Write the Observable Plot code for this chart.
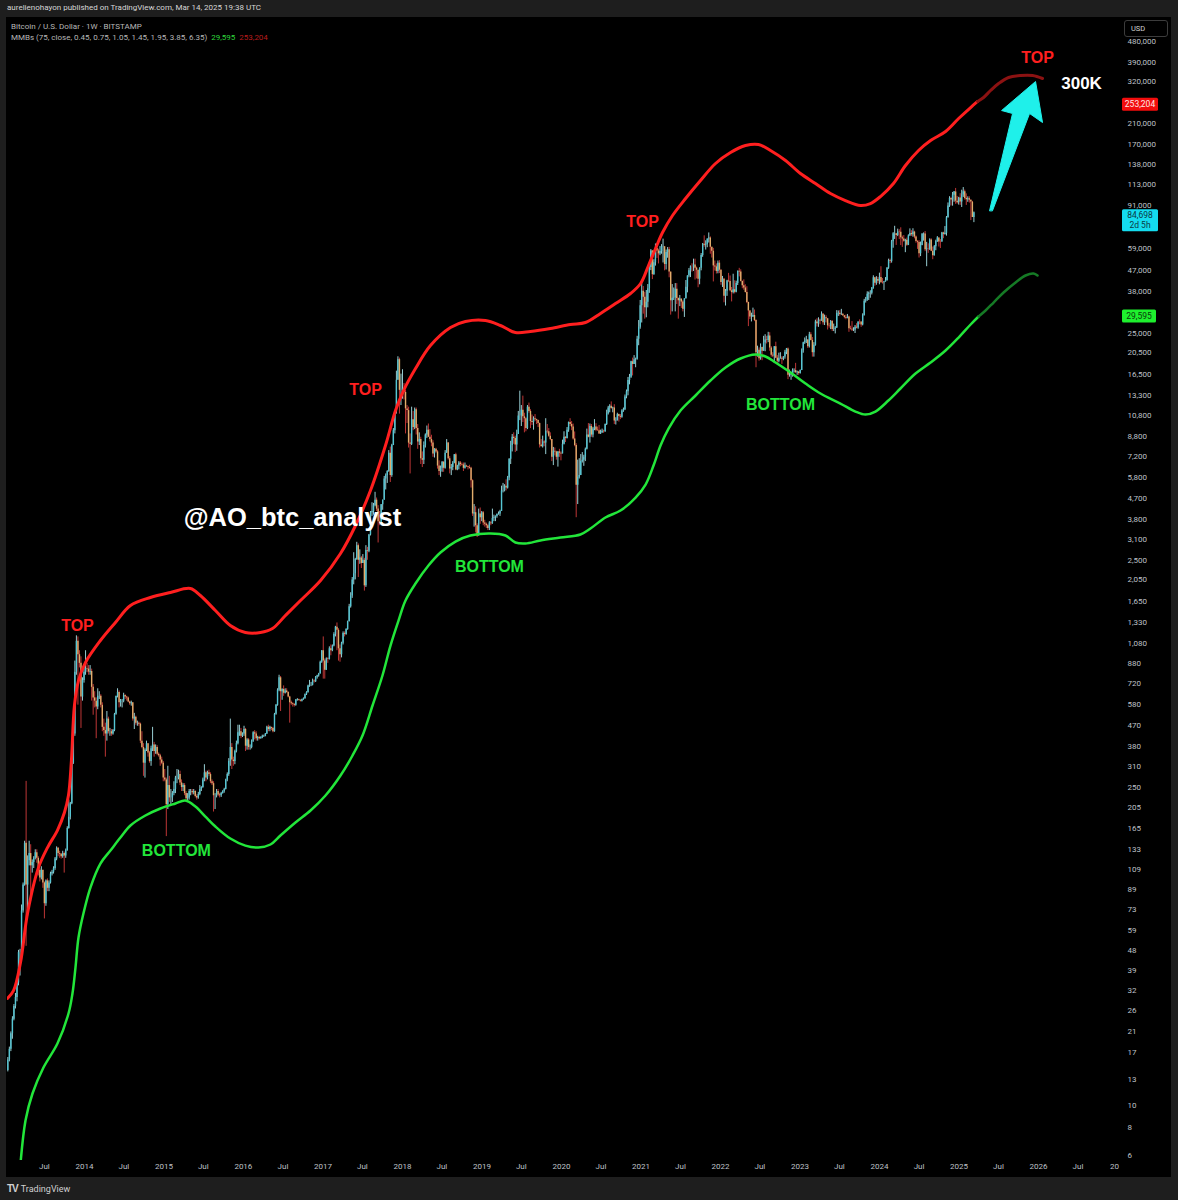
<!DOCTYPE html>
<html><head><meta charset="utf-8">
<script src="https://cdn.jsdelivr.net/npm/d3@7"></script>
<script src="https://cdn.jsdelivr.net/npm/@observablehq/plot@0.6"></script>
<style>
html,body{margin:0;padding:0;background:#1e1e1e;width:1178px;height:1200px;overflow:hidden;font-family:Roboto,"DejaVu Sans",sans-serif;}
#top{position:absolute;left:7px;top:3px;font-size:8px;color:#d6d6d6;white-space:nowrap;}
#panel{position:absolute;left:6px;top:17px;width:1165px;height:1160px;background:#000;overflow:hidden;}
#chart{position:absolute;left:0;top:0;}
#legend{position:absolute;left:5px;top:4px;font-size:8px;color:#b8b8b8;line-height:11px;white-space:nowrap;}
#usd{position:absolute;left:1118px;top:3px;width:44px;height:17px;border:1px solid #3c3c3c;border-radius:3px;background:#000;color:#d0d0d0;font-size:7.5px;line-height:15px;padding-left:6px;box-sizing:border-box;}
#foot{position:absolute;left:7px;top:1183px;font-size:9px;color:#d0d0d0;white-space:nowrap;}
#foot b{font-family:"Liberation Sans",Arial,sans-serif;font-size:10px;letter-spacing:-1px;margin-right:3px;}
</style></head><body>
<div id="top">aurelienohayon published on TradingView.com, Mar 14, 2025 19:38 UTC</div>
<div id="panel">
  <div id="chart"></div>
  <div id="legend">Bitcoin / U.S. Dollar · 1W · BITSTAMP<br>MMBs (75, close, 0.45, 0.75, 1.05, 1.45, 1.95, 3.85, 6.35)&nbsp; <span style="color:#2fd63c">29,595</span>&nbsp; <span style="color:#b81c1c">253,204</span></div>
  <div id="usd">USD</div>
</div>
<div id="foot"><b>TV</b>TradingView</div>
<script>
// ---------- weekly candles [high, low, close], weeks start on first Monday of each year ----------
const firstOpen = 13.5;
const w2013 = [[14.6,13.3,14.2],[16.2,14,15.8],[18,15.5,17.6],[21,17.2,20.6],[24.5,19.5,23.9],[27.7,23.5,27.2],[31,26.5,29.8],[35,28.5,34.5],[48,33.5,46.9],[48.5,37,46.9],[76,45,71.5],[95,70,93],[145,92,142],[266,50,93],[125,68,119],[145,113,128],[140,79,113],[120,105,117],[124,110,122],[133,120,129],[133,116,122],[124,102,108],[110,96,100],[112,98,108],[108,90,95],[96,66,77],[98,75,97],[99,87,90],[97,87,95],[106,94,104],[108,102,106],[112,104,110],[123,108,121],[137,119,135],[136,124,128],[131,122,127],[128,121,124],[131,122,128],[130,105,125],[134,122,132],[168,131,165],[220,164,185],[215,180,212],[330,210,320],[440,316,430],[900,420,805],[1163,780,1100],[1150,576,960],[1000,840,880],[940,455,625],[760,600,740],[860,720,805]];
const w2014 = [[1000,780,835],[880,800,830],[860,780,805],[860,780,810],[830,600,690],[710,520,620],[660,560,600],[620,410,565],[680,550,630],[660,610,630],[640,560,575],[590,440,460],[500,420,445],[480,340,430],[540,400,500],[510,430,440],[455,420,440],[450,420,430],[450,425,445],[530,440,525],[630,520,630],[680,620,655],[665,560,590],[610,565,600],[610,560,600],[650,590,635],[640,610,625],[630,600,620],[625,590,595],[600,575,585],[600,570,590],[590,490,500],[530,450,510],[515,470,480],[490,465,480],[485,465,475],[480,390,400],[440,370,375],[390,280,320],[370,275,365],[400,360,390],[390,340,355],[360,320,325],[380,310,370],[460,360,385],[395,340,360],[385,350,375],[382,345,350],[355,340,345],[350,310,330],[340,315,320],[325,265,275]];
const w2015 = [[300,265,270],[275,152,210],[310,200,255],[280,215,225],[245,210,225],[240,215,235],[265,230,245],[280,235,275],[300,260,275],[298,270,285],[295,255,262],[270,240,250],[260,240,255],[260,230,235],[240,215,223],[235,218,225],[245,220,240],[245,230,240],[245,232,237],[245,232,240],[242,225,228],[232,220,225],[238,222,233],[255,230,245],[252,240,250],[275,248,270],[315,265,290],[295,265,275],[295,270,290],[298,280,285],[290,260,265],[270,255,260],[265,195,230],[235,200,230],[245,225,240],[245,228,232],[236,225,230],[238,226,235],[242,234,240],[248,236,245],[272,244,270],[290,265,285],[335,280,325],[500,310,375],[390,300,330],[340,310,325],[365,315,360],[400,355,390],[470,385,435],[470,420,440],[455,410,420],[435,415,430]];
const w2016 = [[465,420,450],[455,360,380],[410,365,405],[410,365,375],[385,365,375],[405,370,400],[440,395,435],[445,405,430],[440,400,410],[420,400,415],[420,405,410],[418,408,415],[425,410,420],[425,415,420],[432,418,430],[465,428,460],[470,440,450],[465,440,460],[460,445,455],[460,435,440],[530,438,525],[580,520,575],[680,570,670],[780,660,760],[770,540,660],[680,605,675],[700,630,650],[680,645,665],[680,650,655],[660,620,625],[630,480,590],[600,575,585],[590,565,580],[585,565,575],[610,570,605],[615,600,610],[612,600,605],[608,595,600],[612,595,610],[620,605,615],[645,612,640],[660,635,655],[705,650,700],[740,690,705],[725,695,705],[750,700,735],[745,720,730],[770,725,765],[780,750,775],[795,765,790],[900,790,890],[1000,880,1000]];
const w2017 = [[1150,750,900],[920,750,820],[930,820,920],[930,880,915],[1040,910,1020],[1060,950,1000],[1060,990,1050],[1200,1040,1180],[1280,1150,1270],[1325,1000,1230],[1250,900,1020],[1060,890,960],[1090,930,1080],[1210,1060,1190],[1210,1150,1180],[1250,1170,1240],[1350,1230,1340],[1600,1340,1560],[1800,1540,1740],[2100,1700,2050],[2700,1950,2180],[2550,2050,2520],[3000,2500,2900],[2950,2100,2500],[2780,2400,2560],[2600,2300,2420],[2650,2450,2500],[2550,1830,1930],[2900,1900,2760],[2850,2500,2740],[3250,2700,3230],[4100,3200,4050],[4480,3900,4100],[4450,3950,4350],[4980,4300,4600],[4700,4100,4200],[4350,2980,3700],[4100,3550,3620],[4400,3550,4390],[4600,4150,4600],[5850,4600,5700],[6000,5100,5900],[6200,5450,6150],[7600,6100,7400],[7880,5500,5900],[8100,5800,8000],[9500,8000,9300],[11400,9000,11300],[17000,11000,15500],[19666,15500,19100],[19400,11000,14000],[16500,12000,14000]];
const w2018 = [[17250,12800,14200],[15000,12700,13700],[14000,9000,11600],[12000,10000,11400],[11800,7800,8200],[9000,6000,8100],[11800,8000,10400],[11300,9300,9600],[11700,9400,11500],[11700,8900,9500],[9900,7700,8300],[9100,8000,8500],[8700,6600,7000],[7500,6400,6900],[8300,6600,8000],[9000,7800,8900],[9750,8600,9350],[9950,8700,8700],[9400,8300,8500],[8880,7900,8200],[8400,7100,7350],[7750,7050,7700],[7780,7400,7500],[7600,6300,6500],[6850,5900,6150],[6500,5800,6350],[6800,6100,6750],[6800,6100,6350],[7600,6300,7400],[8500,7400,8200],[8250,6900,7000],[7150,6000,6300],[6600,5900,6400],[6800,6200,6700],[7300,6650,7280],[7400,6200,6250],[6550,6200,6500],[6800,6250,6700],[6800,6450,6600],[6700,6500,6570],[6700,6150,6350],[6700,6300,6500],[6550,6400,6450],[6480,6250,6400],[6550,6300,6350],[6420,5200,5600],[5650,3900,4000],[4400,3500,4050],[4300,3300,3550],[3620,3150,3200],[4200,3200,4000],[4250,3600,3850],[4100,3700,4050]];
const w2019 = [[4100,3550,3650],[3750,3500,3600],[3650,3450,3550],[3600,3380,3450],[3700,3380,3650],[3700,3550,3620],[4200,3600,3820],[3950,3700,3850],[3920,3700,3900],[4000,3830,3980],[4080,3950,4000],[4150,3900,4100],[5300,4100,5050],[5450,4950,5060],[5380,5000,5300],[5650,5050,5200],[5850,5150,5760],[7000,5600,6960],[8350,6600,8000],[8950,7500,8700],[9100,8100,8600],[8800,7450,8050],[9350,7550,8950],[11300,8950,10800],[13880,10300,10800],[12000,9700,11450],[13200,10100,10700],[11100,9100,10500],[10600,9200,9500],[12000,9400,11800],[12300,11100,11300],[11500,9500,10200],[10900,9800,10100],[10700,9350,10500],[10950,10200,10400],[10450,9900,10300],[10350,9600,10000],[10050,7800,8050],[8500,7900,7900],[8800,7800,8300],[8400,7900,8200],[10500,7300,9250],[9900,9000,9200],[9500,8700,8800],[9100,8400,8500],[8500,6800,7100],[7850,6530,7550],[7800,7200,7500],[7550,6900,7100],[7520,6430,7500],[7700,7100,7400],[7500,6850,7350]];
const w2020 = [[8450,7350,8100],[9200,8050,8700],[8750,8250,8600],[9600,8550,9350],[10150,9150,10100],[10500,9700,9900],[10200,9300,9650],[9950,8450,8550],[9180,7900,8000],[8150,3850,5350],[6900,4400,5800],[7000,5700,5900],[7300,5900,6800],[7450,6700,6900],[7250,6480,7100],[7800,6800,7700],[9450,7650,8900],[10000,8650,8700],[9950,8200,9700],[9900,8700,8900],[9600,8650,9450],[10400,9300,9650],[9980,9200,9350],[9650,9250,9300],[9800,8950,9000],[9350,8950,9100],[9450,9050,9250],[9350,9050,9200],[9950,9150,9900],[11450,9800,11050],[11900,10900,11700],[12100,11150,11900],[12450,11550,11650],[11800,11150,11700],[12100,9900,10250],[10600,9850,10300],[11100,10250,10950],[11000,10150,10750],[10950,10400,10650],[11500,10550,11350],[11700,11200,11500],[13350,11400,13100],[14050,12850,13800],[15950,13250,15450],[16450,14800,16000],[18800,15800,18700],[19400,16200,18200],[19900,18200,19100],[19400,17600,19200],[24200,19000,23500],[28400,22000,26500],[34800,26000,33000]];
const w2021 = [[42000,27700,38200],[40100,30300,36000],[37800,28800,32300],[38500,29200,34200],[40900,32300,39200],[49700,37400,48600],[58300,47100,57500],[57500,43000,45200],[52600,44950,51000],[61700,49300,59000],[61200,53300,57500],[58500,50400,55800],[60100,54800,57100],[61300,55600,59800],[64800,50900,60000],[57600,47000,50100],[58000,47400,56600],[59500,53400,58200],[59600,43800,46400],[46000,30000,34700],[40900,31000,35600],[39500,34800,35800],[41300,31000,39000],[41300,33400,35500],[35700,28800,34700],[36600,32700,35300],[35100,32100,34250],[34700,31000,31800],[35400,29300,35400],[42600,35300,39800],[44700,37600,44600],[48100,43800,47000],[49400,43900,48900],[50500,46400,48800],[52900,46700,49900],[52900,42800,48300],[48800,43300,47300],[47300,39600,43200],[48500,40800,48200],[56000,47000,54900],[62000,53900,61500],[67000,59700,60900],[63700,58000,61300],[64300,59400,64900],[69000,62300,65500],[66300,55600,59700],[59300,53500,57300],[59000,42000,49400],[51900,46900,48900],[50400,45500,46700],[51900,45600,50800],[52100,45700,47300]];
const w2022 = [[47500,40600,41800],[44400,39700,43100],[43500,34000,36300],[38900,32900,38200],[42700,36300,42400],[45800,41700,42200],[44600,38000,38400],[39700,34300,37700],[45400,37200,38800],[42500,37200,37800],[42300,37600,41300],[46900,40500,46800],[48200,44200,46400],[47500,42000,42200],[42400,39200,40400],[42900,38600,39500],[40800,37600,37700],[40000,33700,34100],[34200,26700,31300],[31400,28700,29400],[30600,28000,29400],[32200,29300,29900],[31600,28100,28400],[28600,17600,20500],[21900,19600,21000],[21500,18800,19300],[22400,19000,21600],[21700,18900,20800],[24200,20800,22600],[24600,20700,23300],[24200,22400,23200],[25200,22700,24300],[25100,20800,21500],[21800,19600,20000],[20500,19500,19800],[21800,18500,21800],[22800,19300,19400],[19900,18200,18800],[20400,18500,19300],[20500,19200,19400],[19700,18200,19200],[19700,18900,19600],[21000,19200,20600],[21400,20100,21300],[21500,15600,16300],[17200,16000,16300],[16800,15500,16450],[17400,16000,17100],[17400,16700,17100],[18400,16600,16750],[17000,16300,16850],[16950,16300,16600]];
const w2023 = [[17200,16500,17100],[21300,17100,20900],[22800,20400,22700],[23800,22300,23100],[24200,22500,23300],[23400,21400,21800],[25200,21500,24600],[25100,23100,23200],[23900,19600,20500],[22700,19600,22100],[28500,21900,28000],[28900,26600,27500],[29200,26500,28500],[28800,27200,28300],[31000,28200,30300],[30500,27100,27800],[30000,27000,29200],[29800,27700,28900],[29000,25800,26900],[27600,26300,26800],[28400,25900,28100],[28400,25400,25900],[27400,25400,25900],[26700,24800,26300],[31400,26200,30500],[31300,29600,30600],[31400,29700,30200],[31800,29900,30300],[30400,29600,29800],[29800,28900,29300],[30000,28600,29050],[30200,28900,29400],[29700,25200,26100],[26800,25800,26000],[28100,25400,25800],[26400,25400,25800],[27000,24900,26550],[27500,26100,26300],[28000,26000,27990],[28600,27200,27950],[28000,26500,27150],[30400,26900,29900],[35200,29700,34500],[35900,33900,35000],[38000,34500,37100],[37900,34800,37400],[38400,35600,37450],[39700,36800,39450],[44700,39000,43800],[44000,40200,41400],[44300,40600,43000],[44000,41300,42300]];
const w2024 = [[45900,40800,43900],[49000,41500,41700],[43500,41100,41600],[42200,38500,42000],[43900,41900,42600],[48600,42300,48300],[52900,47700,52100],[52900,50500,51700],[64000,50800,63100],[69200,59100,68400],[73800,64600,68400],[68700,60800,67200],[71700,66500,69600],[71300,64500,69400],[72700,60700,65700],[66800,59600,64900],[67200,62800,63400],[64700,56500,64000],[65500,60200,60900],[67700,60700,67000],[71900,66500,68600],[70600,66600,67800],[72000,66100,69600],[70200,65000,66200],[66900,62200,63200],[63800,58400,62700],[63800,53500,55900],[62900,54300,60800],[68400,60600,68200],[69000,63500,68300],[70000,57100,58200],[62700,49000,58700],[61800,56100,58500],[65000,57800,64200],[65000,57100,57300],[59800,52600,54800],[60700,54600,60000],[64100,57600,63200],[66500,62700,65600],[65600,59800,63000],[64500,58900,62900],[69400,62800,69000],[69500,65100,68000],[73600,67500,68700],[81500,66800,80400],[93500,80200,90600],[99600,89400,97900],[98900,90700,96400],[104000,90500,101200],[105000,94200,104500],[108300,92200,95200],[99900,92500,93700],[99000,91500,98300]];
const w2025 = [[102700,91200,94500],[106400,89300,101300],[109300,98900,104700],[106500,96200,97700],[102500,91200,96500],[99500,94100,97600],[99500,93400,96200],[96500,78200,94300],[95000,81500,80700],[85300,76600,84698]];
const candleYears = [2013,2014,2015,2016,2017,2018,2019,2020,2021,2022,2023,2024,2025];
const candleBlocks = [w2013,w2014,w2015,w2016,w2017,w2018,w2019,w2020,w2021,w2022,w2023,w2024,w2025];

// ---------- bands (decimal year, price) ----------
const upperYear = [2013.031,2013.107,2013.195,2013.283,2013.421,2013.535,2013.660,2013.748,2013.799,2013.836,2013.874,2013.925,2014.013,2014.201,2014.390,2014.579,2014.830,2015.082,2015.333,2015.459,2015.648,2015.836,2016.025,2016.214,2016.365,2016.528,2016.717,2016.969,2017.220,2017.409,2017.597,2017.786,2017.912,2018.013,2018.164,2018.352,2018.604,2018.792,2019.044,2019.233,2019.421,2019.610,2019.862,2020.113,2020.302,2020.491,2020.679,2020.868,2020.994,2021.094,2021.182,2021.270,2021.396,2021.560,2021.748,2021.937,2022.126,2022.314,2022.478,2022.629,2022.818,2023.006,2023.195,2023.384,2023.572,2023.761,2023.887,2024.013,2024.176,2024.327,2024.491,2024.642,2024.830,2024.994,2025.145,2025.233];
const upperValue = [29.5,31.9,42.4,69.7,111,136,162,194,231,329,574,739,888,1109,1331,1581,1715,1804,1879,1750,1503,1291,1203,1203,1252,1429,1663,2037,2678,3557,5072,8005,11405,13973,17467,22047,26463,28120,28406,27003,25152,25410,26193,27280,27837,30500,33750,37350,41330,49610,58920,69290,82320,97790,117400,139450,155900,167300,169100,159100,143750,126000,113900,102900,95830,91090,92950,99800,113900,136650,159100,176000,192900,220000,246000,261500];
const upperProjYear = [2025.233,2025.308,2025.396,2025.497,2025.623,2025.774,2025.925,2026.050];
const upperProjValue = [261500,272200,292200,313700,333400,340200,340200,330000];
const lowerYear = [2013.182,2013.258,2013.346,2013.484,2013.660,2013.799,2013.849,2013.887,2013.925,2013.987,2014.075,2014.201,2014.327,2014.453,2014.579,2014.767,2014.956,2015.145,2015.270,2015.396,2015.522,2015.648,2015.836,2016.025,2016.189,2016.340,2016.465,2016.654,2016.843,2017.031,2017.220,2017.371,2017.497,2017.623,2017.748,2017.849,2017.950,2018.038,2018.164,2018.327,2018.478,2018.667,2018.855,2019.107,2019.296,2019.421,2019.547,2019.736,2019.987,2020.239,2020.365,2020.553,2020.742,2020.931,2021.057,2021.157,2021.245,2021.346,2021.497,2021.686,2021.874,2022.063,2022.252,2022.440,2022.566,2022.692,2022.881,2023.069,2023.258,2023.509,2023.698,2023.824,2023.950,2024.113,2024.264,2024.453,2024.642,2024.830,2024.994,2025.145,2025.245];
const lowerValue = [4.9,8.55,11.25,14.64,18.67,25.3,31.0,40.3,54.7,69.7,90.7,115.7,132,150.6,170.1,188.2,202.1,212.6,219.1,206.2,186.3,168.4,149.1,138.8,136.1,140.3,153.7,175.4,198.1,230.5,282.3,345.8,423.4,574,778,1054,1358,1663,1976,2371,2705,3024,3215,3281,3215,2994,2964,3055,3149,3248,3451,3857,4141,4724,5389,6535,8005,9506,11405,13285,15462,17640,19326,20126,19722,18556,16768,15000,13556,12246,11290,10952,11290,12624,14260,16600,18556,20960,23910,27280,29580];
const lowerProjYear = [2025.245,2025.333,2025.434,2025.560,2025.711,2025.836,2025.937,2025.987];
const lowerProjValue = [29580,31440,34090,37730,41760,44820,45740,44820];

// ---------- annotations ----------
const noteText = ["TOP","BOTTOM","TOP","@AO_btc_analyst","BOTTOM","TOP","BOTTOM","TOP","300K"];
const noteYear = [2013.912,2015.157,2017.535,2016.616,2019.094,2021.019,2022.755,2025.987,2026.541];
const noteValue = [1291,132,14110,3857,2348,77480,12125,408200,313700];
const arrowYear = [2025.384,2025.673,2025.535,2025.962,2026.050,2025.887,2025.421];
const arrowValue = [86590,231500,238600,320100,211300,231500,86590];

// ---------- axis ticks & price labels (ticks hidden behind the price boxes are left out) ----------
const yTicks = [6,8,10,13,17,21,26,32,39,48,59,73,89,109,133,165,205,250,310,380,470,580,720,880,1080,1330,1650,2050,2500,3100,3800,4700,5800,7200,8800,10800,13300,16500,20500,25000,38000,47000,59000,91000,113000,138000,170000,210000,320000,390000,480000];
const xTickYears = [2013,2014,2015,2016,2017,2018,2019,2020,2021,2022,2023,2024,2025,2026];
const lastUpper = 253204, lastPrice = 84698, lastLower = 29595;

// ---------- build ----------
const yr2date = y => { const Y = Math.floor(y); const a = Date.UTC(Y,0,1), b = Date.UTC(Y+1,0,1); return new Date(a + (y - Y) * (b - a)); };
const firstMonday = y => { const d = new Date(Date.UTC(y,0,1)); const add = (8 - d.getUTCDay()) % 7; return new Date(Date.UTC(y,0,1+add)); };

const candles = [];
let prev = firstOpen;
candleYears.forEach((yr, i) => {
  const start = +firstMonday(yr);
  candleBlocks[i].forEach(([h,l,c], k) => {
    const o = prev;
    candles.push({date: new Date(start + k*7*864e5), open:o, close:c, high:Math.max(h,o,c), low:Math.min(l,o,c), up: c >= o});
    prev = c;
  });
});
const pts = (ys, vs) => ys.map((y,i) => ({date: yr2date(y), value: vs[i]}));
const upper = pts(upperYear, upperValue), upperProj = pts(upperProjYear, upperProjValue);
const lower = pts(lowerYear, lowerValue), lowerProj = pts(lowerProjYear, lowerProjValue);
const arrow = pts(arrowYear, arrowValue);
const notes = noteText.map((t,i) => ({text:t, date: yr2date(noteYear[i]), value: noteValue[i]}));
const xTicks = [];
xTickYears.forEach(y => { if (y > 2013) xTicks.push(new Date(Date.UTC(y,0,1))); xTicks.push(new Date(Date.UTC(y,6,1))); });

const RED = "#ff1f1f", GREEN = "#22e63a", AXIS = "#bfc1c8";
const noteColor = t => t === "TOP" ? RED : t === "BOTTOM" ? GREEN : "#ffffff";
const annoFont = '"Liberation Sans", Arial, sans-serif';

const chart = Plot.plot({
  width: 1165, height: 1160,
  marginLeft: 1, marginRight: 51, marginTop: 1, marginBottom: 17,
  style: {background: "transparent", color: AXIS, fontFamily: "Roboto, sans-serif", fontSize: "8px", overflow: "visible"},
  x: {type: "utc", domain: [yr2date(2013.0314), yr2date(2027.0314)], axis: null},
  y: {type: "log", domain: [5.705, 606300], axis: null},
  marks: [
    Plot.text(yTicks, {y: d => d, text: d => d3.format(",")(d), frameAnchor: "right", dx: 7, textAnchor: "start", fill: AXIS}),
    Plot.text(xTicks, {x: d => d, text: d => d.getUTCMonth() === 0 ? String(d.getUTCFullYear()) : "Jul", frameAnchor: "bottom", dy: 8, fill: AXIS}),
    Plot.text(["20"], {x: [new Date(Date.UTC(2027,0,1))], frameAnchor: "bottom", dy: 8, dx: 1, textAnchor: "end", fill: AXIS}),
    Plot.ruleX(candles, {x: "date", y1: "low", y2: "high", stroke: d => d.up ? "#a8e4ea" : "#d23c3c", strokeWidth: 0.9, clip: true}),
    Plot.ruleX(candles, {x: "date", y1: "open", y2: "close", stroke: d => d.up ? "#55c6d4" : "#e0ae6c", strokeWidth: 1.4, clip: true}),
    Plot.line(upper, {x: "date", y: "value", stroke: RED, strokeWidth: 3, curve: "catmull-rom", clip: true}),
    Plot.line(upperProj, {x: "date", y: "value", stroke: "#8c1212", strokeWidth: 3, curve: "catmull-rom", clip: true}),
    Plot.line(lower, {x: "date", y: "value", stroke: GREEN, strokeWidth: 2.5, curve: "catmull-rom", clip: true}),
    Plot.line(lowerProj, {x: "date", y: "value", stroke: "#157a25", strokeWidth: 2.5, curve: "catmull-rom", clip: true}),
    Plot.line(arrow, {x: "date", y: "value", fill: "#1ff0ea", stroke: "#1ff0ea", strokeWidth: 1, curve: "linear-closed"}),
    Plot.text(notes.filter(d => d.text === "TOP" || d.text === "BOTTOM"), {x: "date", y: "value", text: "text", fill: d => noteColor(d.text), fontSize: 16, fontWeight: "bold", fontFamily: annoFont}),
    Plot.text(notes.filter(d => d.text === "300K"), {x: "date", y: "value", text: "text", fill: "#ffffff", fontSize: 17, fontWeight: "bold", fontFamily: annoFont}),
    Plot.text(notes.filter(d => d.text.startsWith("@")), {x: "date", y: "value", text: "text", fill: "#ffffff", fontSize: 25.5, fontWeight: "bold", fontFamily: annoFont})
  ]
});
document.getElementById("chart").appendChild(chart);

// price labels on the price scale, positioned with Plot's y scale
const yScale = chart.scale("y");
const svg = d3.select(chart);
function priceBox(v, lines, bg, fg, w, above, h) {
  const cy = yScale.apply(v);
  const top = cy - above;
  const g = svg.append("g");
  g.append("rect").attr("x", 1116).attr("y", top).attr("width", w).attr("height", h).attr("rx", 1.5).attr("fill", bg);
  lines.forEach((t, i) => g.append("text").attr("x", 1116 + w/2).attr("y", top + (lines.length === 1 ? h/2 : 5.5 + i*10)).attr("dy", "0.35em").attr("text-anchor", "middle")
    .attr("fill", fg).attr("font-size", 8.5).attr("font-family", "Roboto, sans-serif").text(t));
}
priceBox(lastUpper, [d3.format(",")(lastUpper)], "#f20d0d", "#ffe6e6", 36, 6.5, 13);
priceBox(lastPrice, [d3.format(",")(lastPrice), "2d 5h"], "#14dcef", "#0b3a44", 36, 3, 22);
priceBox(lastLower, [d3.format(",")(lastLower)], "#1ef02e", "#0a3a0a", 34, 6.5, 13);
</script>
</body></html>
